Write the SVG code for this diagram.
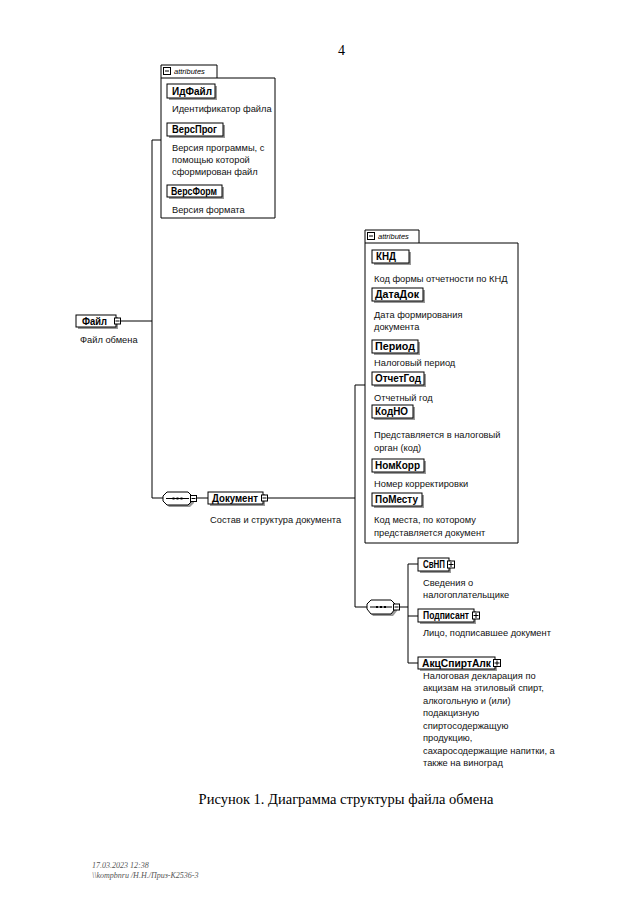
<svg xmlns="http://www.w3.org/2000/svg" width="640" height="915" viewBox="0 0 640 915">
<defs>
<style>
.bg{fill:#fff}
.ln{fill:none;stroke:#000;stroke-width:1}
.box{fill:#fff;stroke:#000;stroke-width:1}
.sh{fill:#999}
.lbl{font-family:"Liberation Sans",Arial,sans-serif;font-size:10px;font-weight:bold;fill:#000}
.desc{font-family:"Liberation Sans",Arial,sans-serif;font-size:9.3px;fill:#111}
.tab{font-family:"Liberation Sans",Arial,sans-serif;font-size:7.5px;font-style:italic;fill:#000}
.ser{font-family:"Liberation Serif","Times New Roman",serif;fill:#000}
.foot{font-family:"Liberation Serif","Times New Roman",serif;font-size:8px;font-style:italic;fill:#555}
</style>
</defs>
<rect class="bg" x="0" y="0" width="640" height="915"/>
<text class="ser" x="338" y="55" font-size="14">4</text>

<g id="connectors">
<path class="ln" d="M121,321 H152 M152,140 V498 M152,140 H161 M152,498 H163 M196,498 H208 M268,498 H355 M355,385 V607 M355,385 H365 M355,607 H367 M399,607 H408 M408,564 V663 M408,564 H418 M408,616 H418 M408,663 H418"/>
</g>

<g id="attrs1">
<path class="box" d="M161,218 V65 H217 V78 H275 V218 Z"/>
<line class="ln" x1="161" y1="78" x2="217" y2="78"/>
<rect class="box" x="163.5" y="67.5" width="7" height="7"/>
<line class="ln" x1="165" y1="71" x2="169" y2="71"/>
<text class="tab" x="174" y="74">attributes</text>
</g>

<g id="ИдФайл">
<rect class="sh" x="169" y="86" width="48" height="14"/>
<rect class="box" x="167" y="84" width="48" height="14"/>
<text class="lbl" x="172" y="94.5" textLength="40" lengthAdjust="spacingAndGlyphs">ИдФайл</text>
<text class="desc" x="172" y="112">Идентификатор файла</text>
</g>
<g id="ВерсПрог">
<rect class="sh" x="169" y="125" width="56" height="13"/>
<rect class="box" x="167" y="123" width="56" height="13"/>
<text class="lbl" x="172" y="133" textLength="45" lengthAdjust="spacingAndGlyphs">ВерсПрог</text>
<text class="desc" x="172" y="151">Версия программы, с</text>
<text class="desc" x="172" y="163">помощью которой</text>
<text class="desc" x="172" y="175">сформирован файл</text>
</g>
<g id="ВерсФорм">
<rect class="sh" x="169" y="187" width="55" height="12"/>
<rect class="box" x="167" y="185" width="55" height="12"/>
<text class="lbl" x="171" y="194.5" textLength="46" lengthAdjust="spacingAndGlyphs">ВерсФорм</text>
<text class="desc" x="172" y="213">Версия формата</text>
</g>

<g id="Файл">
<rect class="sh" x="78" y="317" width="40" height="12"/>
<rect class="box" x="76" y="315" width="40" height="12"/>
<rect class="box" x="114.5" y="318" width="6" height="6"/>
<line class="ln" x1="115.5" y1="321" x2="119.5" y2="321"/>
<text class="lbl" x="82" y="324.5" textLength="25" lengthAdjust="spacingAndGlyphs">Файл</text>
<text class="desc" x="80" y="343">Файл обмена</text>
</g>

<g id="seq1">
<path class="sh" d="M169,494 H190 L194,498 V503 L190,507 H169 L165,503 V498 Z"/>
<path class="box" d="M167,492 H188 L192,496 V501 L188,505 H167 L163,501 V496 Z"/>
<line class="ln" x1="166" y1="498.5" x2="189" y2="498.5"/>
<rect x="172.5" y="497.5" width="2" height="2"/><rect x="176.5" y="497.5" width="2" height="2"/><rect x="180.5" y="497.5" width="2" height="2"/>
<rect class="box" x="190.5" y="495.5" width="6" height="6"/>
<line class="ln" x1="191.5" y1="498.5" x2="195.5" y2="498.5"/>
</g>

<g id="Документ">
<rect class="sh" x="210" y="494" width="55" height="12"/>
<rect class="box" x="208" y="492" width="55" height="12"/>
<rect class="box" x="261.5" y="495" width="6" height="6"/>
<line class="ln" x1="262.5" y1="498" x2="266.5" y2="498"/>
<text class="lbl" x="212" y="501.5" textLength="46" lengthAdjust="spacingAndGlyphs">Документ</text>
<text class="desc" x="210" y="523">Состав и структура документа</text>
</g>

<g id="attrs2">
<path class="box" d="M365,543 V230 H419 V243 H518 V543 Z"/>
<line class="ln" x1="365" y1="243" x2="419" y2="243"/>
<rect class="box" x="367.5" y="232.5" width="7" height="7"/>
<line class="ln" x1="369" y1="236" x2="373" y2="236"/>
<text class="tab" x="378" y="239">attributes</text>
</g>

<g id="КНД">
<rect class="sh" x="374" y="252" width="37" height="13"/>
<rect class="box" x="372" y="250" width="37" height="13"/>
<text class="lbl" x="376" y="260" textLength="20" lengthAdjust="spacingAndGlyphs">КНД</text>
<text class="desc" x="374" y="282">Код формы отчетности по КНД</text>
</g>
<g id="ДатаДок">
<rect class="sh" x="374" y="290" width="51" height="13"/>
<rect class="box" x="372" y="288" width="51" height="13"/>
<text class="lbl" x="375" y="298" textLength="44" lengthAdjust="spacingAndGlyphs">ДатаДок</text>
<text class="desc" x="374" y="318">Дата формирования</text>
<text class="desc" x="374" y="330">документа</text>
</g>
<g id="Период">
<rect class="sh" x="374" y="342" width="46" height="13"/>
<rect class="box" x="372" y="340" width="46" height="13"/>
<text class="lbl" x="375" y="350" textLength="40" lengthAdjust="spacingAndGlyphs">Период</text>
<text class="desc" x="374" y="366">Налоговый период</text>
</g>
<g id="ОтчетГод">
<rect class="sh" x="374" y="374" width="52" height="13"/>
<rect class="box" x="372" y="372" width="52" height="13"/>
<text class="lbl" x="375" y="382" textLength="46" lengthAdjust="spacingAndGlyphs">ОтчетГод</text>
<text class="desc" x="374" y="401">Отчетный год</text>
</g>
<g id="КодНО">
<rect class="sh" x="374" y="407" width="41" height="13"/>
<rect class="box" x="372" y="405" width="41" height="13"/>
<text class="lbl" x="375" y="415" textLength="33" lengthAdjust="spacingAndGlyphs">КодНО</text>
<text class="desc" x="374" y="438">Представляется в налоговый</text>
<text class="desc" x="374" y="451">орган (код)</text>
</g>
<g id="НомКорр">
<rect class="sh" x="374" y="461" width="52" height="13"/>
<rect class="box" x="372" y="459" width="52" height="13"/>
<text class="lbl" x="375" y="469" textLength="45" lengthAdjust="spacingAndGlyphs">НомКорр</text>
<text class="desc" x="374" y="487">Номер корректировки</text>
</g>
<g id="ПоМесту">
<rect class="sh" x="374" y="495" width="50" height="13"/>
<rect class="box" x="372" y="493" width="50" height="13"/>
<text class="lbl" x="375" y="503" textLength="43" lengthAdjust="spacingAndGlyphs">ПоМесту</text>
<text class="desc" x="374" y="523">Код места, по которому</text>
<text class="desc" x="374" y="536">представляется документ</text>
</g>

<g id="seq2">
<path class="sh" d="M373,602 H393 L397,606 V611 L393,616 H373 L369,611 V606 Z"/>
<path class="box" d="M371,600 H391 L395,604 V609 L391,614 H371 L367,609 V604 Z"/>
<line class="ln" x1="370" y1="607" x2="392" y2="607"/>
<rect x="376" y="606" width="2" height="2"/><rect x="380" y="606" width="2" height="2"/><rect x="384" y="606" width="2" height="2"/>
<rect class="box" x="393.5" y="604" width="6" height="6"/>
<line class="ln" x1="394.5" y1="607" x2="398.5" y2="607"/>
</g>

<g id="СвНП">
<rect class="sh" x="420" y="560" width="31" height="13"/>
<rect class="box" x="418" y="558" width="31" height="13"/>
<rect class="box" x="447.5" y="561" width="7" height="7"/>
<path class="ln" d="M448.5,564.5 H453.5 M451,562 V567"/>
<text class="lbl" x="423" y="568" textLength="22" lengthAdjust="spacingAndGlyphs">СвНП</text>
<text class="desc" x="423" y="586">Сведения о</text>
<text class="desc" x="423" y="598">налогоплательщике</text>
</g>
<g id="Подписант">
<rect class="sh" x="420" y="611" width="56" height="13"/>
<rect class="box" x="418" y="609" width="56" height="13"/>
<rect class="box" x="472.5" y="612" width="7" height="7"/>
<path class="ln" d="M473.5,615.5 H478.5 M476,613 V618"/>
<text class="lbl" x="423" y="619" textLength="46" lengthAdjust="spacingAndGlyphs">Подписант</text>
<text class="desc" x="423" y="636">Лицо, подписавшее документ</text>
</g>
<g id="АкцСпиртАлк">
<rect class="sh" x="420" y="659" width="77" height="12"/>
<rect class="box" x="418" y="657" width="77" height="12"/>
<rect class="box" x="493.5" y="659.5" width="7" height="7"/>
<path class="ln" d="M494.5,663 H499.5 M497,660.5 V665.5"/>
<text class="lbl" x="422" y="666.5" textLength="69" lengthAdjust="spacingAndGlyphs">АкцСпиртАлк</text>
<text class="desc" x="423" y="679">Налоговая декларация по</text>
<text class="desc" x="423" y="691">акцизам на этиловый спирт,</text>
<text class="desc" x="423" y="704">алкогольную и (или)</text>
<text class="desc" x="423" y="716">подакцизную</text>
<text class="desc" x="423" y="729">спиртосодержащую</text>
<text class="desc" x="423" y="741">продукцию,</text>
<text class="desc" x="423" y="754">сахаросодержащие напитки, а</text>
<text class="desc" x="423" y="766">также на виноград</text>
</g>

<text class="ser" x="346" y="804" font-size="14.5" text-anchor="middle">Рисунок 1. Диаграмма структуры файла обмена</text>
<text class="foot" x="92" y="868">17.03.2023 12:38</text>
<text class="foot" x="92" y="878">\\kompbnru /Н.Н./Приз-К2536-3</text>
</svg>
